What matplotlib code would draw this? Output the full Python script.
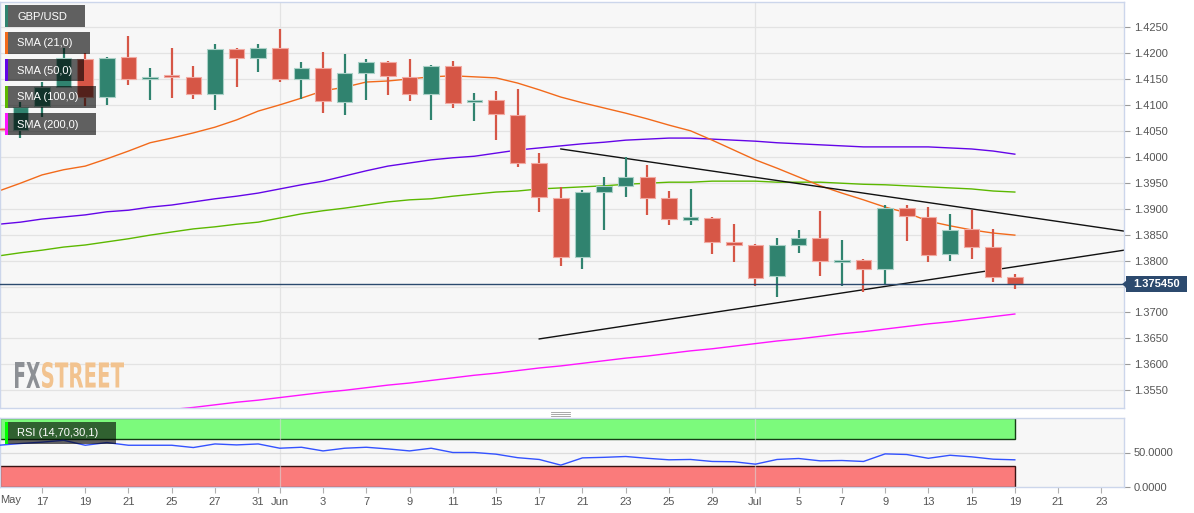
import numpy as np
import pandas as pd
import matplotlib
matplotlib.use("Agg")
import matplotlib.pyplot as plt
from matplotlib.patches import Rectangle, PathPatch, Polygon
from matplotlib.textpath import TextPath
from matplotlib.font_manager import FontProperties
import matplotlib.transforms as mtrans

plt.rcParams['font.family'] = ['Liberation Sans', 'DejaVu Sans']

# ---------------- data ----------------
dates = pd.bdate_range('2021-05-13', '2021-07-23')   # trading days (categories)

opens = [1.4054, 1.4052, 1.4098, 1.4134, 1.4188, 1.4115, 1.4192, 1.4150, 1.4156, 1.4154,
         1.4121, 1.4208, 1.4190, 1.4210, 1.4150, 1.4171, 1.4106, 1.4161, 1.4183, 1.4154,
         1.4121, 1.4175, 1.4105, 1.4110, 1.4080, 1.3988, 1.3921, 1.3807, 1.3932, 1.3944,
         1.3961, 1.3921, 1.3880, 1.3882, 1.3836, 1.3830, 1.3770, 1.3830, 1.3843, 1.3799,
         1.3801, 1.3784, 1.3901, 1.3884, 1.3813, 1.3861, 1.3826, 1.3768]
highs = [1.4077, 1.4106, 1.4144, 1.4210, 1.4200, 1.4192, 1.4233, 1.4171, 1.4210, 1.4175,
         1.4217, 1.4210, 1.4217, 1.4246, 1.4183, 1.4202, 1.4198, 1.4188, 1.4184, 1.4188,
         1.4177, 1.4185, 1.4123, 1.4127, 1.4131, 1.4007, 1.3942, 1.3936, 1.3961, 1.3999,
         1.3984, 1.3934, 1.3938, 1.3884, 1.3870, 1.3832, 1.3843, 1.3859, 1.3895, 1.3840,
         1.3803, 1.3907, 1.3907, 1.3903, 1.3890, 1.3897, 1.3861, 1.3774]
lows = [1.4003, 1.4036, 1.4077, 1.4132, 1.4098, 1.4100, 1.4138, 1.4109, 1.4113, 1.4111,
        1.4090, 1.4134, 1.4163, 1.4144, 1.4111, 1.4084, 1.4080, 1.4109, 1.4119, 1.4107,
        1.4071, 1.4094, 1.4069, 1.4032, 1.3980, 1.3894, 1.3790, 1.3784, 1.3859, 1.3922,
        1.3888, 1.3869, 1.3869, 1.3813, 1.3797, 1.3751, 1.3730, 1.3815, 1.3770, 1.3751,
        1.3739, 1.3755, 1.3838, 1.3797, 1.3799, 1.3803, 1.3759, 1.3745]
closes = [1.4053, 1.4096, 1.4134, 1.4190, 1.4115, 1.4190, 1.4150, 1.4154, 1.4154, 1.4121,
          1.4208, 1.4190, 1.4210, 1.4150, 1.4171, 1.4107, 1.4161, 1.4183, 1.4156, 1.4121,
          1.4175, 1.4104, 1.4109, 1.4082, 1.3988, 1.3922, 1.3807, 1.3932, 1.3944, 1.3961,
          1.3921, 1.3880, 1.3882, 1.3836, 1.3830, 1.3766, 1.3830, 1.3843, 1.3799, 1.3801,
          1.3784, 1.3901, 1.3886, 1.3811, 1.3859, 1.3826, 1.3768, 1.37545]

sma21 = [1.3934, 1.3949, 1.3965, 1.3975, 1.3982, 1.3996, 1.4011, 1.4027, 1.4036, 1.4046,
         1.4057, 1.4071, 1.4088, 1.4100, 1.4113, 1.4127, 1.4134, 1.4144, 1.4146, 1.4150,
         1.4154, 1.4156, 1.4154, 1.4152, 1.4142, 1.4129, 1.4115, 1.4104, 1.4094, 1.4084,
         1.4073, 1.4061, 1.4050, 1.4032, 1.4013, 1.3994, 1.3978, 1.3961, 1.3944, 1.3930,
         1.3917, 1.3903, 1.3892, 1.3876, 1.3867, 1.3859, 1.3853, 1.3849]
sma50 = [1.3870, 1.3874, 1.3880, 1.3884, 1.3888, 1.3894, 1.3897, 1.3903, 1.3907, 1.3913,
         1.3919, 1.3924, 1.3930, 1.3938, 1.3946, 1.3953, 1.3963, 1.3973, 1.3982, 1.3988,
         1.3994, 1.3998, 1.4001, 1.4007, 1.4013, 1.4017, 1.4021, 1.4025, 1.4028, 1.4032,
         1.4034, 1.4036, 1.4036, 1.4034, 1.4032, 1.4030, 1.4027, 1.4025, 1.4023, 1.4021,
         1.4019, 1.4019, 1.4019, 1.4019, 1.4017, 1.4015, 1.4011, 1.4005]
sma100 = [1.3809, 1.3815, 1.3820, 1.3826, 1.3830, 1.3836, 1.3842, 1.3849, 1.3855, 1.3861,
          1.3865, 1.3870, 1.3874, 1.3882, 1.3890, 1.3896, 1.3901, 1.3907, 1.3913, 1.3917,
          1.3919, 1.3924, 1.3928, 1.3932, 1.3934, 1.3938, 1.3940, 1.3942, 1.3944, 1.3947,
          1.3949, 1.3951, 1.3951, 1.3953, 1.3953, 1.3953, 1.3951, 1.3951, 1.3951, 1.3949,
          1.3947, 1.3946, 1.3944, 1.3942, 1.3940, 1.3938, 1.3934, 1.3932]
sma200 = [1.3475, 1.3480, 1.3484, 1.3489, 1.3494, 1.3498, 1.3503, 1.3508, 1.3513, 1.3517,
          1.3522, 1.3527, 1.3531, 1.3536, 1.3541, 1.3546, 1.3550, 1.3555, 1.3560, 1.3564,
          1.3569, 1.3574, 1.3579, 1.3583, 1.3588, 1.3593, 1.3597, 1.3602, 1.3607, 1.3612,
          1.3616, 1.3621, 1.3626, 1.3630, 1.3635, 1.3640, 1.3645, 1.3649, 1.3654, 1.3659,
          1.3663, 1.3668, 1.3673, 1.3678, 1.3682, 1.3687, 1.3692, 1.3697]
rsi = [60.5, 63.0, 65.0, 67.7, 60.5, 64.4, 60.5, 60.5, 60.5, 57.2, 62.4, 61.0, 62.4, 56.2,
       57.6, 52.3, 56.2, 57.6, 55.2, 52.3, 56.2, 50.0, 50.0, 47.6, 42.5, 39.9, 31.7, 42.2,
       43.0, 44.2, 41.6, 39.4, 39.9, 37.0, 36.6, 33.1, 39.9, 41.3, 37.9, 38.4, 37.0, 48.0,
       47.1, 41.6, 46.0, 43.7, 40.3, 39.4]

current_price = 1.37545
trend_upper_pos = [26, 53]
trend_upper_val = [1.4015, 1.3851]
trend_lower_pos = [25, 53]
trend_lower_val = [1.3649, 1.3826]

price_ticks = [1.3550, 1.3600, 1.3650, 1.3700, 1.3750, 1.3800, 1.3850, 1.3900,
               1.3950, 1.4000, 1.4050, 1.4100, 1.4150, 1.4200, 1.4250]
tick_dates = ['2021-05-17', '2021-05-19', '2021-05-21', '2021-05-25', '2021-05-27',
              '2021-05-31', '2021-06-01', '2021-06-03', '2021-06-07', '2021-06-09',
              '2021-06-11', '2021-06-15', '2021-06-17', '2021-06-21', '2021-06-23',
              '2021-06-25', '2021-06-29', '2021-07-01', '2021-07-05', '2021-07-07',
              '2021-07-09', '2021-07-13', '2021-07-15', '2021-07-19', '2021-07-21',
              '2021-07-23']
month_starts = ['2021-06-01', '2021-07-01']

legend_names = ['GBP/USD', 'SMA (21,0)', 'SMA (50,0)', 'SMA (100,0)', 'SMA (200,0)']

# ---------------- style ----------------
W, H = 1194, 513
GREEN = '#30836f'
RED = '#d65646'
C21, C50, C100, C200 = '#f26a1b', '#6405e8', '#5cb800', '#ff14ff'
BG = '#f7f7f7'
GRID = '#e3e3e3'
SPINE = '#ccd6eb'
TXT = '#555555'

fig = plt.figure(figsize=(W / 100, H / 100), dpi=100)
fig.patch.set_facecolor('white')
px = mtrans.Affine2D().scale(1 / W, -1 / H).translate(0, 1) + fig.transFigure

ax = fig.add_axes([0, (H - 408) / H, 1124 / W, 406 / H])
axr = fig.add_axes([0, (H - 487) / H, 1124 / W, 69 / H])

xl = (0.057, 52.05)
n = len(closes)
pos = np.arange(n)

# ---------------- main panel ----------------
ax.set_facecolor(BG)
ax.set_xlim(*xl)
ax.set_ylim(1.35159, 1.42982)
for t in price_ticks:
    ax.axhline(t, color=GRID, lw=0.9, zorder=0)
for m in month_starts:
    p = dates.get_loc(pd.Timestamp(m))
    ax.axvline(p, color=GRID, lw=0.9, zorder=0)
    axr.axvline(p, color='#d8d8d8', lw=0.9, zorder=2, alpha=0.6)

ax.plot(pos, sma200, color=C200, lw=1.0, zorder=2)
ax.plot(pos, sma100, color=C100, lw=1.0, zorder=2)
ax.plot(pos, sma50, color=C50, lw=1.0, zorder=2)
ax.plot(pos, sma21, color=C21, lw=1.0, zorder=2)
ax.plot(trend_upper_pos, trend_upper_val, color='#111111', lw=1.0, zorder=2)
ax.plot(trend_lower_pos, trend_lower_val, color='#111111', lw=1.0, zorder=2)

min_h = 0.0004
for k in range(n):
    o, h, l, c = opens[k], highs[k], lows[k], closes[k]
    up = c >= o
    col = GREEN if up else RED
    edge = '#a9d0c6' if up else '#f2aaa2'
    ax.vlines(pos[k], l, h, color=col, lw=1.6, zorder=3)
    b = min(o, c)
    hh = abs(c - o)
    if hh < min_h:
        b = (o + c) / 2 - min_h / 2
        hh = min_h
    ax.add_patch(Rectangle((pos[k] - 0.36, b), 0.72, hh, facecolor=col,
                           edgecolor=edge, lw=0.8, zorder=4))

ax.axhline(current_price, color='#2b4a6e', lw=1.0, zorder=5)

ax.yaxis.tick_right()
ax.set_yticks(price_ticks)
ax.set_yticklabels(['' if abs(t - 1.375) < 1e-9 else f'{t:.4f}' for t in price_ticks])
ax.tick_params(axis='y', length=4, color='#9a9a9a', labelsize=8, labelcolor=TXT, pad=3)
ax.tick_params(axis='x', bottom=False, labelbottom=False)
for s in ax.spines.values():
    s.set_color(SPINE)
    s.set_linewidth(1.0)

# current price label
ytr = ax.get_yaxis_transform()
box_h = 16 / 5190
ax.add_patch(Rectangle((1.0 + 2 / 1124, current_price - box_h / 2), 61 / 1124, box_h,
                       transform=ytr, facecolor='#2c4a6e', edgecolor='none',
                       clip_on=False, zorder=10))
ax.add_patch(Polygon([(1.0 - 2 / 1124, current_price),
                      (1.0 + 3 / 1124, current_price + 0.0008),
                      (1.0 + 3 / 1124, current_price - 0.0008)],
                     closed=True, transform=ytr, facecolor='#2c4a6e',
                     edgecolor='none', clip_on=False, zorder=10))
ax.text(1.0 + 32.5 / 1124, current_price, f'{current_price:.6f}', transform=ytr,
        ha='center', va='center', color='white', fontsize=8, fontweight='bold',
        zorder=11, clip_on=False)

# ---------------- RSI panel ----------------
axr.set_facecolor(BG)
axr.set_xlim(*xl)
axr.set_ylim(0, 100)
last = pos[-1]
axr.axhline(50, color='#dcdcdc', lw=0.9, zorder=1)
axr.add_patch(Rectangle((xl[0], 70), last - xl[0], 30, facecolor='#7cfa7c',
                        edgecolor='#163f16', lw=1.0, zorder=1))
axr.add_patch(Rectangle((xl[0], 0), last - xl[0], 30, facecolor='#fa7b7b',
                        edgecolor='#3a1414', lw=1.0, zorder=1))
axr.plot(pos, rsi, color='#3352ff', lw=1.0, zorder=3)

axr.yaxis.tick_right()
axr.set_yticks([0, 50])
axr.set_yticklabels(['0.0000', '50.0000'])
axr.tick_params(axis='y', length=4, color='#9a9a9a', labelsize=8, labelcolor=TXT, pad=3)
tpos = [dates.get_loc(pd.Timestamp(d)) for d in tick_dates]
tlab = [pd.Timestamp(d).strftime('%b') if pd.Timestamp(d).day == 1 else str(pd.Timestamp(d).day)
        for d in tick_dates]
axr.set_xticks(tpos)
axr.set_xticklabels(tlab)
axr.tick_params(axis='x', length=4, color='#b0b0b0', labelsize=8, labelcolor=TXT, pad=3)
for s in axr.spines.values():
    s.set_color(SPINE)
    s.set_linewidth(1.0)
fig.text(0, 1 - 500 / H, 'May', ha='left', va='center', fontsize=8, color=TXT)

# separator handle
for yy in (411.5, 413.5, 415.5):
    fig.add_artist(plt.Line2D([551, 570], [yy, yy], transform=px, color='#9a9a9a', lw=0.6))

# ---------------- legend boxes ----------------
leg_cols = [GREEN, C21, C50, C100, C200]
leg_w = [80, 85, 79, 91, 91]
for i, (name, col, w) in enumerate(zip(legend_names, leg_cols, leg_w)):
    top = 5 + 27 * i
    fig.add_artist(Rectangle((5, top), w, 22, transform=px, facecolor='black',
                             alpha=0.61, edgecolor='none', zorder=20))
    fig.add_artist(Rectangle((5, top), 2.5, 22, transform=px, facecolor=col,
                             edgecolor='none', zorder=21))
    fig.text(17, top + 11.5, name, transform=px, ha='left', va='center',
             color='white', fontsize=8, zorder=22)

# RSI label
fig.add_artist(Rectangle((5, 422), 111, 22, transform=px, facecolor='black',
                         alpha=0.61, edgecolor='none', zorder=20))
fig.add_artist(Rectangle((5, 422), 2.5, 22, transform=px, facecolor='#00ff00',
                         edgecolor='none', zorder=21))
fig.text(17, 433.5, 'RSI (14,70,30,1)', transform=px, ha='left', va='center',
         color='white', fontsize=8, zorder=22)

# ---------------- watermark ----------------
def word(s, color, x0, x1, ytop, ybot):
    tp = TextPath((0, 0), s, size=100, prop=FontProperties(family='DejaVu Sans', weight='bold'))
    e = tp.get_extents()
    tr = (mtrans.Affine2D().translate(-e.x0, -e.y0)
          .scale((x1 - x0) / e.width, (ybot - ytop) / e.height)
          .scale(1, -1).translate(x0, ybot))
    fig.add_artist(PathPatch(tr.transform_path(tp), facecolor=color, edgecolor='none',
                             transform=px, zorder=1))

word('FX', '#8d9095', 15, 40, 362, 388)
word('STREET', '#f2c38f', 42, 124, 362, 388)

fig.savefig('out.png', dpi=100, facecolor='white')
